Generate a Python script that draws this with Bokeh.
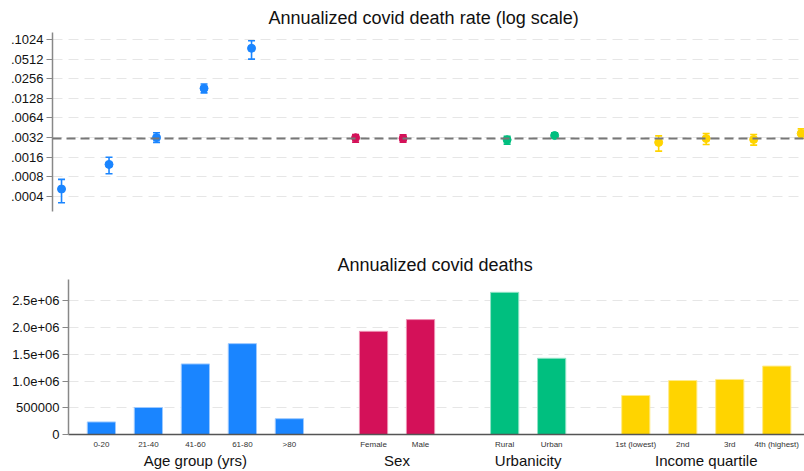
from bokeh.plotting import figure
from bokeh.models import (ColumnDataSource, FixedTicker, Span, LinearAxis, Range1d, Title)
from bokeh.embed import file_html
from bokeh.resources import INLINE

# ---------------- data ----------------
categories = ["0-20", "21-40", "41-60", "61-80", ">80",
              "Female", "Male", "Rural", "Urban",
              "1st (lowest)", "2nd", "3rd", "4th (highest)"]
group_of = [0, 0, 0, 0, 0, 1, 1, 2, 2, 3, 3, 3, 3]
group_names = ["Age group (yrs)", "Sex", "Urbanicity", "Income quartile"]
group_colors = ["#1a85ff", "#d41159", "#00bf7f", "#ffd400"]

death_rate = [0.00052, 0.00124, 0.0032, 0.0182, 0.075,
              0.00318, 0.0031, 0.00296, 0.00344,
              0.0027, 0.0031, 0.0030, 0.00369]
rate_low = [0.00032, 0.00089, 0.0027, 0.0155, 0.0512,
            0.00273, 0.00273, 0.00254, 0.00318,
            0.00198, 0.0025, 0.00245, 0.00313]
rate_high = [0.00073, 0.0016, 0.0038, 0.0212, 0.098,
             0.00356, 0.00352, 0.00336, 0.0038,
             0.0034, 0.00369, 0.00356, 0.00435]
overall_rate = 0.0031

deaths = [235000, 505000, 1320000, 1700000, 296000,
          1930000, 2150000, 2660000, 1426000,
          730000, 1010000, 1030000, 1280000]

rate_ticks = [0.0004, 0.0008, 0.0016, 0.0032, 0.0064, 0.0128, 0.0256, 0.0512, 0.1024]
rate_tick_labels = [".0004", ".0008", ".0016", ".0032", ".0064", ".0128", ".0256", ".0512", ".1024"]
death_ticks = [0, 500000, 1000000, 1500000, 2000000, 2500000]
death_tick_labels = ["0", "500000", "1.0e+06", "1.5e+06", "2.0e+06", "2.5e+06"]

FONT = "Liberation Sans"
colors = [group_colors[g] for g in group_of]
bar_edges = ["#9cc9ff", "#ee8fb2", "#8fe3c6", "#ffeb8a"]
edge_colors = [bar_edges[g] for g in group_of]

# positions: category index plus an extra gap between groups
top_gap = 1.19
bot_gap = 0.79
x_top = [round(i + g * top_gap, 2) for i, g in enumerate(group_of)]
x_bot = [round(i + g * bot_gap, 2) for i, g in enumerate(group_of)]

# ---------------- top: log-scale rates ----------------
p1 = figure(width=804, height=240, output_backend="svg", toolbar_location=None,
            y_axis_type="log", x_axis_location=None,
            x_range=Range1d(-0.19, 15.64), y_range=Range1d(0.000235, 0.131),
            min_border_left=52, min_border_right=0, min_border_top=32, min_border_bottom=29)
p1.title = Title(text="Annualized covid death rate (log scale)", align="left", offset=216,
                 text_font=FONT, text_font_size="18px", text_font_style="normal",
                 text_color="#111111")
p1.outline_line_color = None
p1.xgrid.grid_line_color = None
p1.ygrid.grid_line_color = "#e6e6e6"
p1.ygrid.grid_line_dash = "10 6"
p1.ygrid.ticker = FixedTicker(ticks=rate_ticks)
ya = p1.yaxis[0]
ya.ticker = FixedTicker(ticks=rate_ticks)
ya.major_label_overrides = {t: l for t, l in zip(rate_ticks, rate_tick_labels)}
ya.major_label_text_font = FONT
ya.major_label_text_font_size = "13px"
ya.major_label_text_color = "#111111"
ya.axis_line_color = "#888888"
ya.axis_line_width = 1.5
ya.major_tick_line_color = "#888888"
ya.major_tick_in = 0
ya.major_tick_out = 6
ya.minor_tick_line_color = None
ya.major_label_standoff = 3

p1.add_layout(Span(location=overall_rate, dimension="width", line_color="#777777",
                   line_width=2, line_dash="9 5"))

src1 = ColumnDataSource(dict(x=x_top, y=death_rate, lo=rate_low, hi=rate_high, c=colors))
p1.segment(x0="x", y0="lo", x1="x", y1="hi", source=src1, line_color="c", line_width=1.6)
p1.scatter(x="x", y="lo", source=src1, marker="dash", size=7, line_color="c", line_width=1.6)
p1.scatter(x="x", y="hi", source=src1, marker="dash", size=7, line_color="c", line_width=1.6)
p1.scatter(x="x", y="y", source=src1, marker="circle", size=8, fill_color="c", line_color="c")

# ---------------- bottom: death counts ----------------
p2 = figure(width=804, height=231, output_backend="svg", toolbar_location=None,
            x_range=Range1d(-0.70, 14.96), y_range=Range1d(0, 2.9e6),
            min_border_left=68, min_border_right=0, min_border_top=39, min_border_bottom=35)
p2.title = Title(text="Annualized covid deaths", align="left", offset=269,
                 text_font=FONT, text_font_size="18px", text_font_style="normal",
                 text_color="#111111")
p2.outline_line_color = None
p2.xgrid.grid_line_color = None
p2.ygrid.grid_line_color = "#e6e6e6"
p2.ygrid.grid_line_dash = "10 6"
p2.ygrid.ticker = FixedTicker(ticks=death_ticks[1:])

src2 = ColumnDataSource(dict(x=x_bot, top=deaths, c=colors, e=edge_colors))
p2.vbar(x="x", top="top", width=0.6, bottom=0, source=src2,
        fill_color="c", line_color="e", line_width=1)

ya2 = p2.yaxis[0]
ya2.ticker = FixedTicker(ticks=death_ticks)
ya2.major_label_overrides = {t: l for t, l in zip(death_ticks, death_tick_labels)}
ya2.major_label_text_font = FONT
ya2.major_label_text_font_size = "13px"
ya2.major_label_text_color = "#111111"
ya2.axis_line_color = "#888888"
ya2.axis_line_width = 1.5
ya2.major_tick_line_color = "#888888"
ya2.major_tick_in = 0
ya2.major_tick_out = 6
ya2.minor_tick_line_color = None
ya2.major_label_standoff = 3

xa = p2.xaxis[0]
xa.ticker = FixedTicker(ticks=x_bot)
xa.major_label_overrides = {t: l for t, l in zip(x_bot, categories)}
xa.major_label_text_font = FONT
xa.major_label_text_font_size = "8px"
xa.major_label_text_color = "#333333"
xa.axis_line_color = "#555555"
xa.axis_line_width = 1.5
xa.major_tick_line_color = None
xa.major_tick_in = 0
xa.major_tick_out = 0
xa.minor_tick_line_color = None
xa.major_label_standoff = 5

group_centers = []
for g in range(len(group_names)):
    xs = [x for x, gg in zip(x_bot, group_of) if gg == g]
    group_centers.append(round(sum(xs) / len(xs), 3))
ga = LinearAxis(ticker=FixedTicker(ticks=group_centers),
                major_label_overrides={t: l for t, l in zip(group_centers, group_names)})
ga.axis_line_color = None
ga.major_tick_line_color = None
ga.minor_tick_line_color = None
ga.major_tick_in = 0
ga.major_tick_out = 0
ga.major_label_standoff = 0
ga.major_label_text_font = FONT
ga.major_label_text_font_size = "15px"
ga.major_label_text_color = "#111111"
p2.add_layout(ga, "below")

# two independent roots so the plot frames are not aligned to each other
open("out.html", "w").write(file_html([p1, p2], INLINE))
